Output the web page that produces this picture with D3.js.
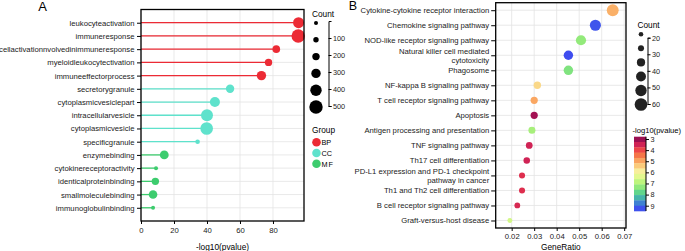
<!DOCTYPE html>
<html>
<head>
<meta charset="utf-8">
<script src="https://cdn.jsdelivr.net/npm/d3@7"></script>
<style>
body { margin: 0; background: #fff; }
svg { font-family: "Liberation Sans", Arial, sans-serif; }
.axis path, .axis line { stroke: #000; }
.axis text { fill: #222; }
</style>
</head>
<body>
<script>
// Panel A data (GO terms)
var termsA = ["leukocyteactivation", "immuneresponse", "cellactivationnvolvedinimmuneresponse",
	"myeloidleukocytectivation", "immuneeffectorprocess", "secretorygranule", "cytoplasmicvesiclepart",
	"intracellularvesicle", "cytoplasmicvesicle", "specificgranule", "enzymebinding",
	"cytokinereceptoractivity", "identicalproteinbinding", "smallmoleculebinding", "immunoglobulinbinding"];
var logpA = [95.5, 95.3, 82, 77.3, 73, 54, 44.8, 40, 39.8, 34.3, 14.1, 9.1, 8.7, 7.3, 7.3];
var countA = [380, 500, 210, 200, 300, 250, 330, 430, 460, 60, 270, 30, 200, 260, 30];
var groupA = ["BP", "BP", "BP", "BP", "BP", "CC", "CC", "CC", "CC", "CC", "MF", "MF", "MF", "MF", "MF"];
var groups = ["BP", "CC", "MF"];
var groupColors = ["#ec2b35", "#5fe2cc", "#3dcc6e"];
var ticksA = [0, 20, 40, 60, 80];
var countLegendA = [30, 100, 200, 300, 400, 500];
var countTicksA = [100, 200, 300, 400, 500];

// Panel B data (KEGG pathways)
var termsB = ["Cytokine-cytokine receptor interaction", "Chemokine signaling pathway",
	"NOD-like receptor signaling pathway", "Natural killer cell mediated\ncytotoxicity", "Phagosome",
	"NF-kappa B signaling pathway", "T cell receptor signaling pathway", "Apoptosis",
	"Antigen processing and presentation", "TNF signaling pathway", "Th17 cell differentiation",
	"PD-L1 expression and PD-1 checkpoint\npathway in cancer", "Th1 and Th2 cell differentiation",
	"B cell receptor signaling pathway", "Graft-versus-host disease"];
var ratioB = [0.0649, 0.0572, 0.0508, 0.0452, 0.0452, 0.0314, 0.0300, 0.0300, 0.0290, 0.0278, 0.0267, 0.0246, 0.0246, 0.0225, 0.0192];
var countB = [54, 48, 42, 37, 37, 26, 25, 25, 24, 23, 22, 20, 20, 19, 16];
var logpB = [5.1, 9.2, 7.3, 9.3, 7.5, 5.6, 5.0, 3.1, 7.1, 3.5, 3.5, 3.7, 3.7, 3.6, 6.6];
var ticksB = [0.02, 0.03, 0.04, 0.05, 0.06, 0.07];
var countLegendB = [15, 20, 30, 40, 50, 60];
var countTicksB = [20, 30, 40, 50, 60];
var pvalTicks = [3, 4, 5, 6, 7, 8, 9];
var paletteB = ["#7a0a48", "#c2185b", "#e8364a", "#f46a42", "#f99b5a", "#fbc878", "#f8ee9c",
	"#e2f98e", "#b8f47a", "#86e67c", "#52cf92", "#3ea6b8", "#3f64e6", "#3f3ff5"];

var labelSize = "7.7px";

var svg = d3.select("body").append("svg")
	.attr("width", 685)
	.attr("height", 251);

// ---------- Panel A ----------
var ax0 = 141, ax1 = 304, ay0 = 9.5, ay1 = 221;

var xA = d3.scaleLinear().domain([0, 98.8]).range([ax0, ax1]);
var yA = d3.scalePoint().domain(termsA).range([ay0, ay1]).padding(1);
var rA = d3.scaleLinear().domain([0, 500]).range([1.7, 6.7]);
var colorA = d3.scaleOrdinal().domain(groups).range(groupColors);

var gA = svg.append("g");

gA.selectAll(".vgrid").data(ticksA).enter().append("line")
	.attr("x1", function(d) { return xA(d); })
	.attr("x2", function(d) { return xA(d); })
	.attr("y1", ay0).attr("y2", ay1)
	.attr("stroke", "#e3e3e3").attr("stroke-width", 0.8);

gA.selectAll(".hgrid").data(termsA).enter().append("line")
	.attr("x1", ax0).attr("x2", ax1)
	.attr("y1", function(d) { return yA(d); })
	.attr("y2", function(d) { return yA(d); })
	.attr("stroke", "#e3e3e3").attr("stroke-width", 0.8);

// lollipop sticks
gA.selectAll(".stick").data(termsA).enter().append("line")
	.attr("x1", xA(0))
	.attr("x2", function(d, i) { return xA(logpA[i]); })
	.attr("y1", function(d) { return yA(d); })
	.attr("y2", function(d) { return yA(d); })
	.attr("stroke", function(d, i) { return colorA(groupA[i]); })
	.attr("stroke-width", 1.3);

gA.selectAll(".dot").data(termsA).enter().append("circle")
	.attr("cx", function(d, i) { return xA(logpA[i]); })
	.attr("cy", function(d) { return yA(d); })
	.attr("r", function(d, i) { return rA(countA[i]); })
	.attr("fill", function(d, i) { return colorA(groupA[i]); });

// frame
gA.append("rect")
	.attr("x", ax0).attr("y", ay0)
	.attr("width", ax1 - ax0).attr("height", ay1 - ay0)
	.attr("fill", "none").attr("stroke", "#000").attr("stroke-width", 1.3);

gA.append("g")
	.attr("class", "axis")
	.attr("transform", "translate(" + ax0 + ",0)")
	.call(d3.axisLeft(yA).tickSize(4).tickPadding(2.5))
	.call(function(g) { g.select(".domain").remove(); })
	.selectAll("text").style("font-size", labelSize);

gA.append("g")
	.attr("class", "axis")
	.attr("transform", "translate(0," + ay1 + ")")
	.call(d3.axisBottom(xA).tickValues(ticksA).tickSize(3).tickPadding(3.5))
	.call(function(g) { g.select(".domain").remove(); })
	.selectAll("text").style("font-size", labelSize);

gA.append("text")
	.attr("x", (ax0 + ax1) / 2).attr("y", 250)
	.attr("text-anchor", "middle")
	.style("font-size", "8.3px")
	.text("-log10(pvalue)");

svg.append("text")
	.attr("x", 42.5).attr("y", 10.5)
	.attr("text-anchor", "middle")
	.style("font-size", "13px")
	.text("A");

// Count legend A
var legA = svg.append("g");
legA.append("text").attr("x", 312).attr("y", 17).style("font-size", "8.3px").text("Count");
var lyA = d3.scaleLinear().domain([0, 500]).range([21, 106]);
var lposA = d3.scalePoint().domain(countLegendA).range([23, 107]);
legA.selectAll("circle").data(countLegendA).enter().append("circle")
	.attr("cx", 316)
	.attr("cy", function(d) { return lposA(d); })
	.attr("r", function(d) { return rA(d); })
	.attr("fill", "#000");
legA.append("g")
	.attr("class", "axis")
	.attr("transform", "translate(328.5,0)")
	.call(d3.axisRight(lyA).tickValues(countTicksA).tickSize(3).tickPadding(1.5).tickSizeOuter(3))
	.selectAll("text").style("font-size", "7.3px");

// Group legend
legA.append("text").attr("x", 312).attr("y", 133).style("font-size", "8.3px").text("Group");
var gposA = d3.scalePoint().domain(groups).range([142.3, 163.7]);
legA.selectAll(".gkey").data(groups).enter().append("circle")
	.attr("cx", 316.5)
	.attr("cy", function(d) { return gposA(d); })
	.attr("r", 4.3)
	.attr("fill", function(d) { return colorA(d); });
legA.selectAll(".glab").data(groups).enter().append("text")
	.attr("x", 321.5)
	.attr("y", function(d) { return gposA(d) + 3; })
	.style("font-size", "7.3px")
	.style("letter-spacing", function(d) { return d == "MF" ? "0.8px" : "0px"; })
	.text(function(d) { return d; });

// ---------- Panel B ----------
var bx0 = 495.7, bx1 = 626, by0 = 2.7, by1 = 228;

var xB = d3.scaleLinear().domain([0.0129, 0.0708]).range([bx0, bx1]);
var yB = d3.scalePoint().domain(termsB).range([by0, by1]).padding(0.5);
var areaB = d3.scaleLinear().domain([15, 60]).range([5.3, 40]);
function rB(v) { return Math.sqrt(areaB(v)); }
var colorB = d3.scaleLinear()
	.domain(d3.range(paletteB.length).map(function(i) { return 2.8 + i * (9.5 - 2.8) / (paletteB.length - 1); }))
	.range(paletteB);

var gB = svg.append("g");

gB.selectAll(".vgrid").data(ticksB).enter().append("line")
	.attr("x1", function(d) { return xB(d); })
	.attr("x2", function(d) { return xB(d); })
	.attr("y1", by0).attr("y2", by1)
	.attr("stroke", "#e3e3e3").attr("stroke-width", 0.8);

gB.selectAll(".hgrid").data(termsB).enter().append("line")
	.attr("x1", bx0).attr("x2", bx1)
	.attr("y1", function(d) { return yB(d); })
	.attr("y2", function(d) { return yB(d); })
	.attr("stroke", "#e3e3e3").attr("stroke-width", 0.8);

gB.selectAll(".dot").data(termsB).enter().append("circle")
	.attr("cx", function(d, i) { return xB(ratioB[i]); })
	.attr("cy", function(d) { return yB(d); })
	.attr("r", function(d, i) { return rB(countB[i]); })
	.attr("fill", function(d, i) { return colorB(logpB[i]); });

gB.append("rect")
	.attr("x", bx0).attr("y", by0)
	.attr("width", bx1 - bx0).attr("height", by1 - by0)
	.attr("fill", "none").attr("stroke", "#000").attr("stroke-width", 1.3);

var yAxB = gB.append("g")
	.attr("class", "axis")
	.attr("transform", "translate(" + bx0 + ",0)")
	.call(d3.axisLeft(yB).tickSize(4.5).tickPadding(2))
	.call(function(g) { g.select(".domain").remove(); });
yAxB.selectAll("text")
	.style("font-size", labelSize)
	.each(function(d) {
		var lines = d.split("\n");
		if (lines.length > 1) {
			var t = d3.select(this).text(null).attr("dy", null);
			lines.forEach(function(l, k) {
				t.append("tspan").attr("x", -6.5).attr("y", k == 0 ? -2 : 7).text(l);
			});
		}
	});

gB.append("g")
	.attr("class", "axis")
	.attr("transform", "translate(0," + by1 + ")")
	.call(d3.axisBottom(xB).tickValues(ticksB).tickSize(3).tickPadding(3).tickFormat(d3.format(".2f")))
	.call(function(g) { g.select(".domain").remove(); })
	.selectAll("text").style("font-size", labelSize);

gB.append("text")
	.attr("x", (bx0 + bx1) / 2).attr("y", 250)
	.attr("text-anchor", "middle")
	.style("font-size", "8.3px")
	.text("GeneRatio");

svg.append("text")
	.attr("x", 353).attr("y", 10)
	.attr("text-anchor", "middle")
	.style("font-size", "12.5px")
	.text("B");

// Count legend B
var legB = svg.append("g");
legB.append("text").attr("x", 637.5).attr("y", 28).style("font-size", "8.3px").text("Count");
var lposB = d3.scalePoint().domain(countLegendB).range([34.3, 104.5]);
legB.selectAll("circle").data(countLegendB).enter().append("circle")
	.attr("cx", 641)
	.attr("cy", function(d) { return lposB(d); })
	.attr("r", function(d) { return rB(d); })
	.attr("fill", "#222");
var lyB = d3.scaleLinear().domain([20, 60]).range([37.7, 104]);
legB.append("g")
	.attr("class", "axis")
	.attr("transform", "translate(647.5,0)")
	.call(d3.axisRight(lyB).tickValues(countTicksB).tickSize(3).tickPadding(1.5).tickSizeOuter(3))
	.selectAll("text").style("font-size", "7.3px");

// colour bar
legB.append("text").attr("x", 632.5).attr("y", 132.5).style("font-size", "7.6px").text("-log10(pvalue)");
var cy = d3.scaleLinear().domain([3, 9]).range([139, 205.7]);
var cbTop = 136.7, cbBot = 211;
var nSteps = 14;
d3.range(nSteps).forEach(function(i) {
	var v0 = cy.invert(cbTop + (cbBot - cbTop) * i / nSteps);
	legB.append("rect")
		.attr("x", 634).attr("width", 12)
		.attr("y", cbTop + (cbBot - cbTop) * i / nSteps)
		.attr("height", (cbBot - cbTop) / nSteps + 0.3)
		.attr("fill", colorB(v0 + 0.24));
});
legB.append("g")
	.attr("class", "axis")
	.attr("transform", "translate(646,0)")
	.call(d3.axisRight(cy).tickValues(pvalTicks).tickSize(3).tickPadding(1.5).tickSizeOuter(0).tickFormat(d3.format("d")))
	.call(function(g) { g.select(".domain").attr("d", "M0," + cbTop + "V" + cbBot); })
	.selectAll("text").style("font-size", "7.3px");
</script>
</body>
</html>
